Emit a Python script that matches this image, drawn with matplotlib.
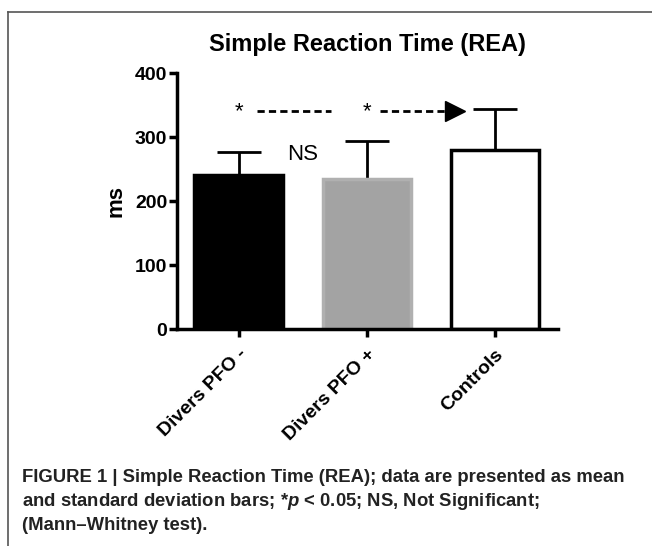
import numpy as np
import matplotlib.pyplot as plt
from matplotlib import font_manager

groups = ['Divers PFO -', 'Divers PFO +', 'Controls']
means = [240, 235, 279]
sds = [37, 59, 65]
face_colors = ['black', '#a3a3a3', 'white']
edge_colors = ['black', '#b0b0b0', 'black']

title = 'Simple Reaction Time (REA)'
caption = ['FIGURE 1 | Simple Reaction Time (REA); data are presented as mean',
           'and standard deviation bars; *$\\mathit{p}$ < 0.05; NS, Not Significant;',
           '(Mann\u2013Whitney test).']

plt.rcParams['font.family'] = ['Liberation Sans', 'DejaVu Sans']
plt.rcParams['mathtext.fontset'] = 'custom'
plt.rcParams['mathtext.it'] = 'Liberation Sans:italic:bold'
plt.rcParams['mathtext.rm'] = 'Liberation Sans:bold'
names = {f.name for f in font_manager.fontManager.ttflist}
cap_font = 'Liberation Sans Narrow' if 'Liberation Sans Narrow' in names else 'Liberation Sans'

fig = plt.figure(figsize=(6.52, 5.46), dpi=100)
ax = fig.add_axes([177/652, 1-329/546, (558-177)/652, (329-73)/546])

x = np.arange(len(groups))
ax.bar(x, means, width=0.69, color=face_colors, edgecolor=edge_colors, linewidth=2.5, zorder=2)
ax.errorbar(x, means, yerr=[np.zeros(len(sds)), sds], fmt='none', ecolor='black',
            elinewidth=2, capsize=16, capthick=2, zorder=1)

ax.set_xlim(-0.48, 2.49)
ax.set_ylim(0, 400)
ax.set_yticks([0, 100, 200, 300, 400])
ax.set_xticks(x)
ax.set_xticklabels(groups, rotation=45, ha='right', rotation_mode='anchor',
                   fontsize=14, fontweight='bold')
for lab in ax.get_yticklabels():
    lab.set_fontweight('bold')
ax.tick_params(axis='both', width=2.5, length=6, labelsize=14, pad=1)
ax.tick_params(axis='x', pad=6)
for s in ['top', 'right']:
    ax.spines[s].set_visible(False)
for s in ['left', 'bottom']:
    ax.spines[s].set_linewidth(2.5)
ax.set_ylabel('ms', fontsize=16, fontweight='bold', labelpad=6)
ax.set_title(title, fontsize=17, fontweight='bold', pad=16)

# significance annotations
y_sig = 340
ax.text(0, y_sig, '*', ha='center', va='center', fontsize=16)
ax.text(1, y_sig, '*', ha='center', va='center', fontsize=16)
ax.plot([0.14, 0.72], [y_sig, y_sig], ls=(0, (2.6, 1.5)), color='black', lw=2)
ax.plot([1.1, 1.62], [y_sig, y_sig], ls=(0, (2.6, 1.5)), color='black', lw=2)
ax.plot([1.69], [y_sig], marker='>', markersize=14, color='black', ls='none')
ax.text(0.5, 272, 'NS', ha='center', va='center', fontsize=16)

# caption
for i, line in enumerate(caption):
    fig.text(22/652, 1-(478+24*i)/546, line, ha='left', va='center',
             fontsize=13.3, fontweight='bold', family=[cap_font, 'DejaVu Sans'], color='#222222')

# frame lines
fig.add_artist(plt.Line2D([8/652, 1], [1-12/546, 1-12/546], color='#555555', lw=1.2))
fig.add_artist(plt.Line2D([8/652, 8/652], [0, 1-12/546], color='#555555', lw=1.2))

fig.savefig('out.png', dpi=100)
